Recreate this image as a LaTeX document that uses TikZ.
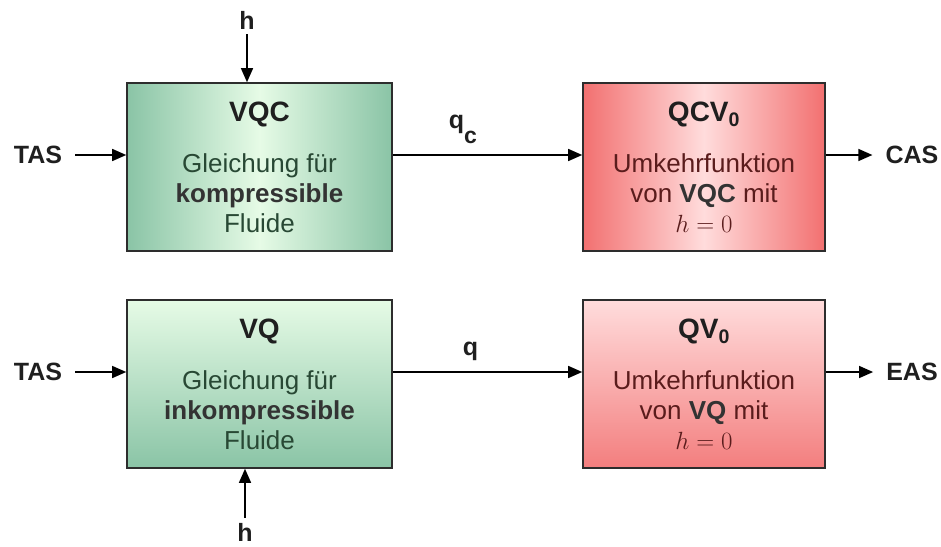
\documentclass[tikz,border=0pt]{standalone}
\usepackage{fontspec}
\setmainfont{Liberation Sans}
\usetikzlibrary{arrows.meta,positioning}
\definecolor{grnedge}{RGB}{138,196,166}
\definecolor{grnmid}{RGB}{230,251,230}
\definecolor{rededge}{RGB}{242,112,112}
\definecolor{redmid}{RGB}{255,220,220}
\definecolor{grntext}{RGB}{40,72,52}
\definecolor{redtext}{RGB}{90,28,28}
\definecolor{frame}{RGB}{45,45,45}
\newcommand\blktitle[1]{{\fontsize{28}{30}\selectfont\bfseries\color{black!88}#1}\\[21pt]}
\newcommand\hl[1]{\textbf{\color{black!80}#1}}

\begin{document}
\begin{tikzpicture}[
  x=1pt, y=-1pt,
  blk/.style={draw=frame, line width=1.6pt, minimum height=168pt, align=center, inner sep=0pt, font=\fontsize{26}{30}\selectfont},
  gblk/.style={blk, minimum width=265pt, text=grntext},
  rblk/.style={blk, minimum width=242pt, text=redtext},
  sig/.style={font=\fontsize{25}{25}\selectfont\bfseries, text=black!88, inner xsep=13pt, inner ysep=5pt},
  qlbl/.style={font=\fontsize{25}{25}\selectfont\bfseries, text=black!88, inner sep=0pt},
  arr/.style={line width=1.4pt, -{Triangle[length=14pt,width=12pt]}}
]
\useasboundingbox (0,0) rectangle (941,546);

\node [gblk, left color=grnedge, right color=grnedge, middle color=grnmid] (vqc) at (259.5,167)
  {\blktitle{VQC}Gleichung für\\\hl{kompressible}\\Fluide};
\node [rblk, left color=rededge, right color=rededge, middle color=redmid] (qcv) at (704,167)
  {\blktitle{QCV\textsubscript{0}}Umkehrfunktion\\von \hl{VQC} mit\\$h=0$};
\node [gblk, top color=grnmid, bottom color=grnedge] (vq) at (259.5,384)
  {\blktitle{VQ}Gleichung für\\\hl{inkompressible}\\Fluide};
\node [rblk, top color=redmid, bottom color=rededge!90] (qv) at (704,384)
  {\blktitle{QV\textsubscript{0}}Umkehrfunktion\\von \hl{VQ} mit\\$h=0$};

\node [sig] (tas1) at (38,155) {TAS};
\node [sig] (cas) at (912,155) {CAS};
\node [sig] (tas2) at (38,372) {TAS};
\node [sig] (eas) at (912,372) {EAS};
\node [sig] (h1) at (247,20) {h};
\node [sig] (h2) at (245,532) {h};

\draw [arr] (h1) -- (h1 |- vqc.north);
\draw [arr] (h2) -- (h2 |- vq.south);
\draw [arr] (tas1) -- (tas1 -| vqc.west);
\draw [arr] (tas2) -- (tas2 -| vq.west);
\draw [arr] (vqc.east |- tas1) -- node [qlbl, pos=0.37, above=11pt] {q\raisebox{-15pt}{\fontsize{23}{23}\selectfont c}} (qcv.west |- tas1);
\draw [arr] (vq.east |- tas2) -- node [qlbl, pos=0.41, above=11pt] {q} (qv.west |- tas2);
\draw [arr] (qcv.east |- cas) -- (cas);
\draw [arr] (qv.east |- eas) -- (eas);
\end{tikzpicture}
\end{document}
